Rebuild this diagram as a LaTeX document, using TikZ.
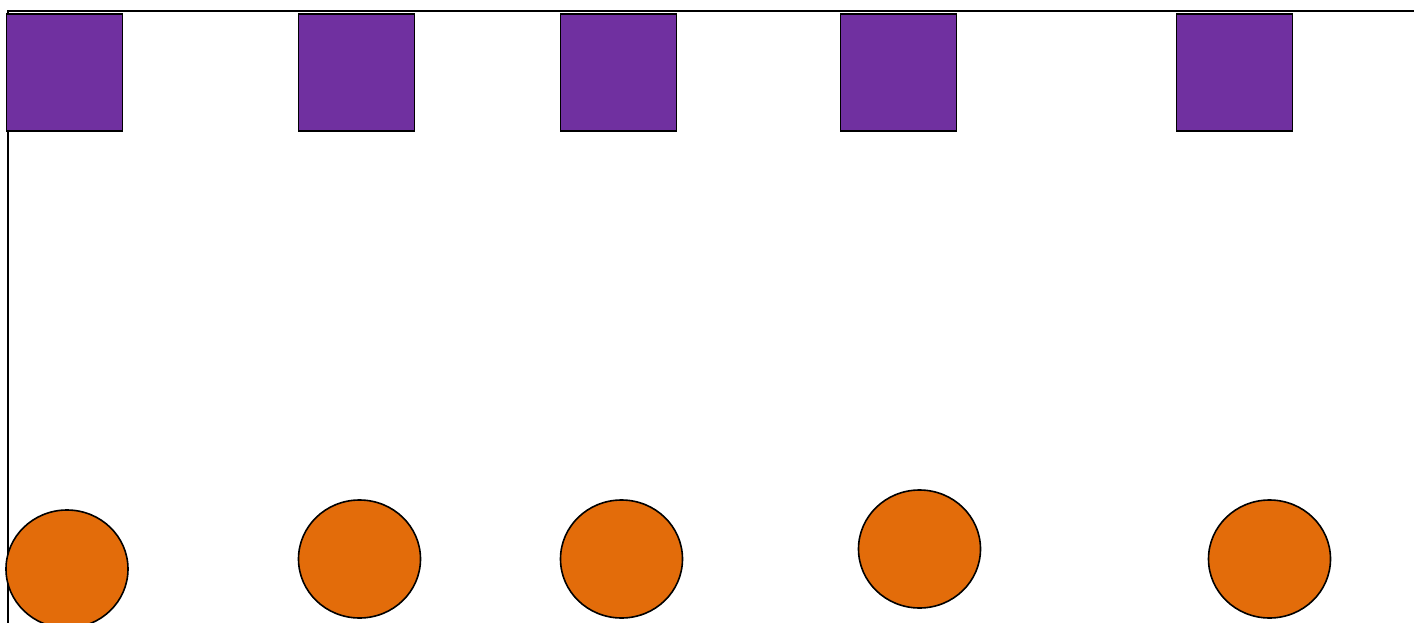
\documentclass[tikz,border=0pt]{standalone}
\usetikzlibrary{shapes.geometric}
\definecolor{sqpurple}{HTML}{7030A0}
\definecolor{circorange}{HTML}{E36C0A}
\begin{document}
\begin{tikzpicture}[x=1pt,y=-1pt,
  sqbox/.style={draw=black,line width=1.6pt,fill=sqpurple,rectangle,minimum width=116pt,minimum height=117pt,inner sep=0pt,outer sep=0pt},
  ball/.style={draw=black,line width=1.6pt,fill=circorange,ellipse,minimum width=122pt,minimum height=118pt,inner sep=0pt,outer sep=0pt},
  rule/.style={draw=black,line width=2pt}]
\useasboundingbox (0,0) rectangle (1414,623);
\coordinate (tl) at (7,11);
\coordinate (tr) at (1414,11);
\coordinate (lt) at (8,11);
\coordinate (lb) at (8,623);
\draw[rule] (tl) -- (tr);
\draw[rule] (lt) -- (lb);
\node[sqbox] (s1) at (64.5,72.5) {};
\node[sqbox] (s2) at (356.5,72.5) {};
\node[sqbox] (s3) at (618.5,72.5) {};
\node[sqbox] (s4) at (898.5,72.5) {};
\node[sqbox] (s5) at (1234.5,72.5) {};
\node[ball] (c1) at (67,569) {};
\node[ball] (c2) at (359.5,559) {};
\node[ball] (c3) at (621.5,559) {};
\node[ball] (c4) at (919.5,549) {};
\node[ball] (c5) at (1269.5,559) {};
\end{tikzpicture}
\end{document}
